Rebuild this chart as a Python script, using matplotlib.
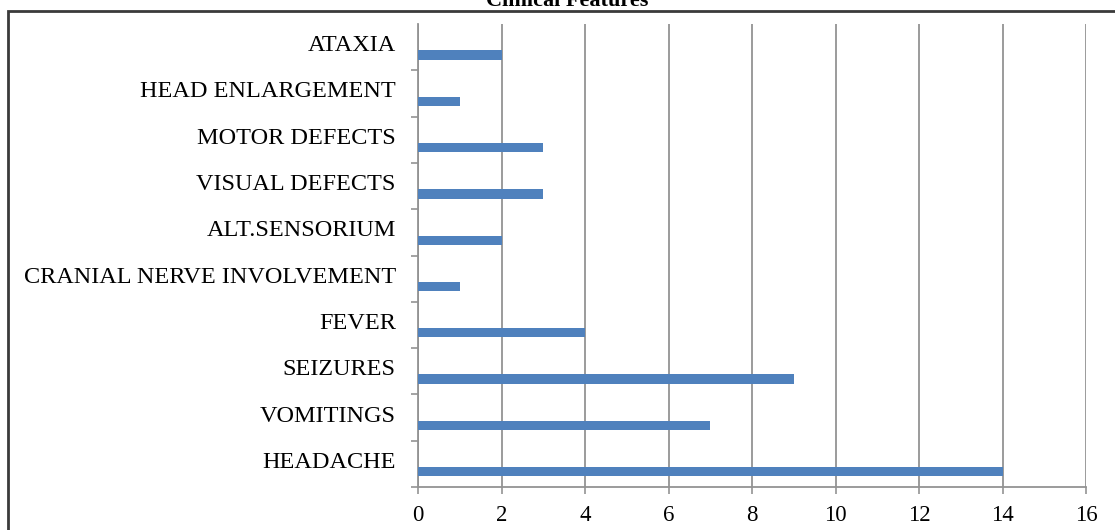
import matplotlib
matplotlib.use("Agg")
import matplotlib.pyplot as plt
import matplotlib.patches as patches
import matplotlib.transforms as transforms
import numpy as np

# clinical features, bottom to top as drawn
features = ['HEADACHE', 'VOMITINGS', 'SEIZURES', 'FEVER',
            'CRANIAL NERVE INVOLVEMENT', 'ALT.SENSORIUM', 'VISUAL DEFECTS',
            'MOTOR DEFECTS', 'HEAD ENLARGEMENT', 'ATAXIA']
counts = [14, 7, 9, 4, 1, 2, 3, 3, 1, 2]
xticks = [0, 2, 4, 6, 8, 10, 12, 14, 16]

bar_colour = '#4F81BD'
grid_colour = '#939393'

plt.rcParams['font.family'] = ['Liberation Serif', 'DejaVu Serif']

fig = plt.figure(figsize=(11.15, 5.30), dpi=100)
ax = fig.add_axes([418/1115, 43/530, (1086-418)/1115, (487-24)/530])

pos = np.arange(len(features))
ax.barh(pos - 0.17, counts, height=0.2, color=bar_colour, zorder=3)

ax.set_xlim(0, 16)
ax.set_ylim(-0.5, len(features) - 0.5)
ax.set_xticks(xticks)
ax.set_xticklabels([str(t) for t in xticks], fontsize=16.5)
ax.xaxis.grid(True, color=grid_colour, linewidth=1.3, zorder=0)

ax.set_yticks(pos)
ax.set_yticklabels(features, fontsize=17.5)
# separators between categories (none above the top one)
ax.set_yticks(np.arange(-0.5, len(features) - 1, 1.0), minor=True)
ax.tick_params(axis='y', which='major', length=0, pad=16)
ax.tick_params(axis='y', which='minor', length=5, width=1.2, color=grid_colour, direction='out')
ax.tick_params(axis='x', length=5, width=1.2, color=grid_colour, pad=8)

# nudge the category names up a little
shift = transforms.ScaledTranslation(0, 4/100, fig.dpi_scale_trans)
for lab in ax.get_yticklabels():
    lab.set_transform(lab.get_transform() + shift)

for side in ['top', 'right']:
    ax.spines[side].set_visible(False)
for side in ['left', 'bottom']:
    ax.spines[side].set_color(grid_colour)
    ax.spines[side].set_linewidth(1.3)

# frame around the chart
frame = patches.Rectangle((8/1115, -0.1), 1.2, (530-11)/530 + 0.1,
                          transform=fig.transFigure, fill=False,
                          edgecolor='#3a3a3a', linewidth=2)
fig.patches.append(frame)

fig.text(567/1115, 1 - 6/530, 'Clinical Features', ha='center', va='baseline',
         fontsize=16, fontweight='bold')

fig.savefig('out.png', dpi=100)
